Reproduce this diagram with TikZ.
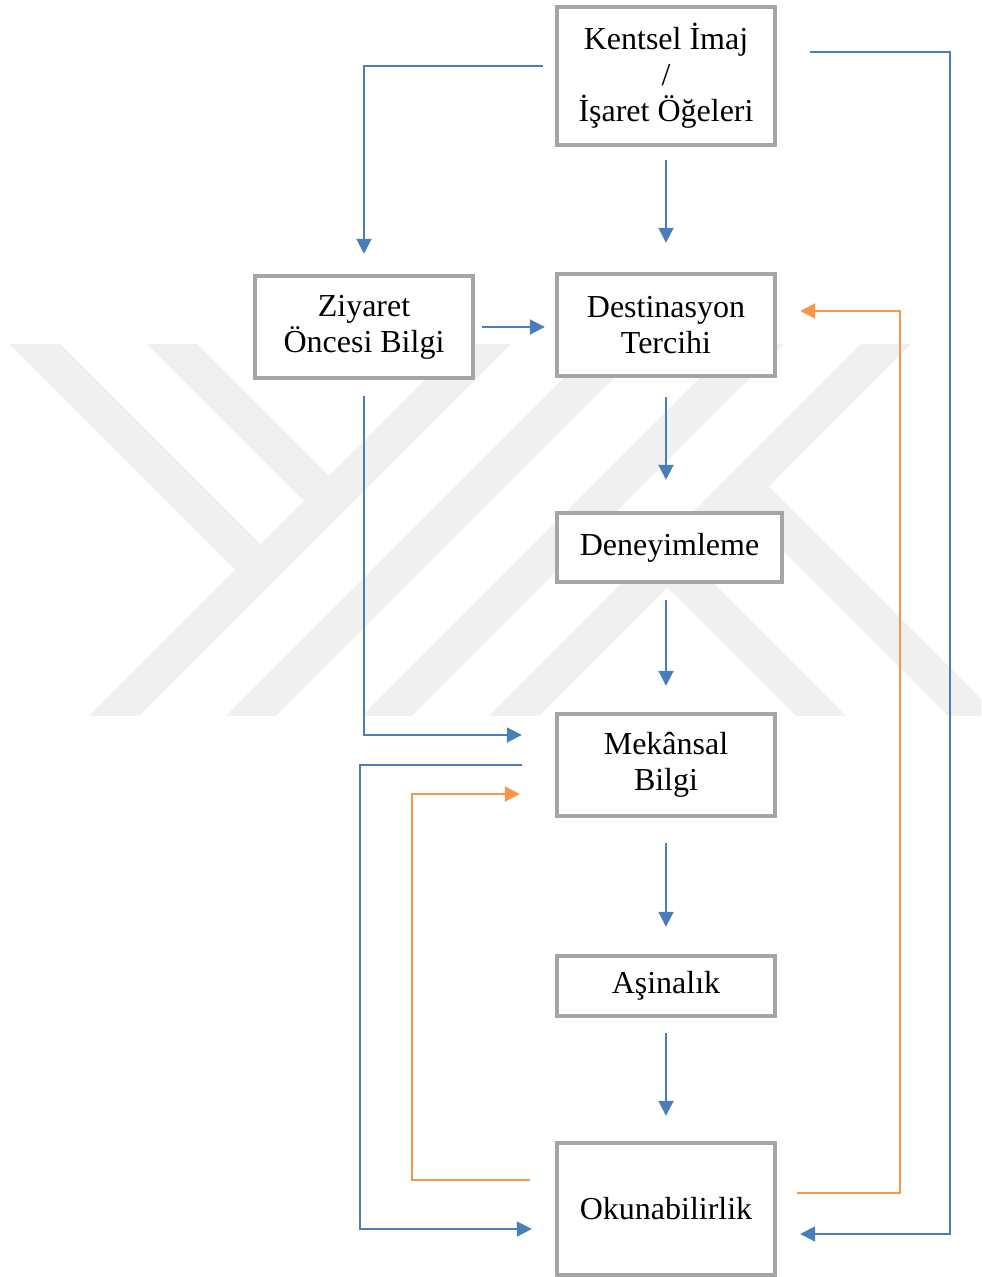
\documentclass[tikz,border=0pt]{standalone}
\usepackage{fontspec}
\setmainfont{Liberation Serif}
\usepackage{tikz}
\usetikzlibrary{arrows.meta}
\definecolor{boxgray}{RGB}{165,165,165}
\definecolor{lineblue}{RGB}{74,126,187}
\definecolor{lineorange}{RGB}{247,150,70}
\definecolor{wmgray}{RGB}{240,240,240}
\tikzstyle{box} = [draw=boxgray, line width=2.2pt, fill=white, text centered, align=center, minimum width=109pt, inner sep=0pt, font=\fontsize{16}{18}\selectfont]
\tikzset{
  line/.style ={draw, line width=1pt, lineblue, -{Triangle[length=7.5pt,width=7.5pt]}},
  back/.style ={line, lineorange},
  stripe/.style ={wmgray, line width=17.7pt}
}

\begin{document}
\begin{tikzpicture}[x=0.5pt, y=-0.5pt]
 \useasboundingbox (0,0) rectangle (981,1277);
 % watermark
 \begin{scope}
   \clip (0,345) rectangle (981,715);
   \draw[stripe] (70,760) -- (530,300);
   \draw[stripe] (207,760) -- (667,300);
   \draw[stripe] (343,760) -- (803,300);
   \draw[stripe] (470,760) -- (930,300);
   \draw[stripe] (-9,300) -- (260.5,569.5);
   \draw[stripe] (128,300) -- (329,501);
   \draw[stripe] (667.5,562.5) -- (865,760);
   \draw[stripe] (743.5,486.5) -- (1017,760);
 \end{scope}

 \node[box, minimum height=69pt] (kentsel) at (666,76) {Kentsel İmaj\\/\\İşaret Öğeleri};
 \node[box, minimum height=51pt] (ziyaret) at (364,327) {Ziyaret\\Öncesi Bilgi};
 \node[box, minimum height=51pt] (destinasyon) at (666,325) {Destinasyon\\Tercihi};
 \node[box, minimum width=112.5pt, minimum height=34.5pt] (deneyim) at (669.5,547.5) {Deneyimleme};
 \node[box, minimum height=51pt] (mekansal) at (666,765) {Mekânsal\\Bilgi};
 \node[box, minimum height=30pt] (asinalik) at (666,986) {Aşinalık};
 \node[box, minimum height=66pt] (okuna) at (666,1209) {Okunabilirlik};

 \coordinate (railA) at (360,0);
 \coordinate (railB) at (412,0);
 \coordinate (railC) at (900,0);
 \coordinate (railD) at (950,0);
 \coordinate (kentsel_out) at ([xshift=16.5pt,yshift=12pt]kentsel.east);
 \coordinate (okuna_in) at ([xshift=11.5pt,yshift=-12.5pt]okuna.east);
 \coordinate (okuna_out) at ([xshift=10pt,yshift=8pt]okuna.east);
 \coordinate (dest_in) at ([xshift=11.5pt,yshift=7pt]destinasyon.east);
 \coordinate (mek_out) at ([xshift=-16.5pt]mekansal.west);
 \coordinate (okuna_inL) at ([xshift=-11.5pt,yshift=-10pt]okuna.west);
 \coordinate (okuna_outL) at ([xshift=-12.5pt,yshift=14.5pt]okuna.west);
 \coordinate (mek_inL) at ([xshift=-17.5pt,yshift=-14.5pt]mekansal.west);

 \begin{scope}
   \draw[line] ([xshift=-6pt,yshift=5pt]kentsel.west) -| ([yshift=10pt]ziyaret.north);
   \draw[line, shorten <=6.5pt, shorten >=14.5pt] (kentsel.south) -- (destinasyon.north);
   \draw[line, shorten <=3.5pt, shorten >=5pt] (ziyaret.east) -- (ziyaret.east -| destinasyon.west);
   \draw[line, shorten <=9.5pt, shorten >=15.5pt] (destinasyon.south) -- (destinasyon.south |- deneyim.north);
   \draw[line, shorten <=8pt, shorten >=13pt] (mekansal.north |- deneyim.south) -- (mekansal.north);
   \draw[line, shorten <=12.5pt, shorten >=13.5pt] (mekansal.south) -- (asinalik.north);
   \draw[line, shorten <=7.5pt, shorten >=12.5pt] (asinalik.south) -- (okuna.north);
   \draw[line, shorten <=8pt] (ziyaret.south) |- ([xshift=-16.5pt,yshift=15pt]mekansal.west);
   \draw[line] (mek_out) -| (railA |- okuna_inL) -- (okuna_inL);
   \draw[line] (kentsel_out) -| (railD |- okuna_in) -- (okuna_in);
   \draw[back] (okuna_outL) -| (railB |- mek_inL) -- (mek_inL);
   \draw[back] (okuna_out) -| (railC |- dest_in) -- (dest_in);
 \end{scope}

\end{tikzpicture}
\end{document}
